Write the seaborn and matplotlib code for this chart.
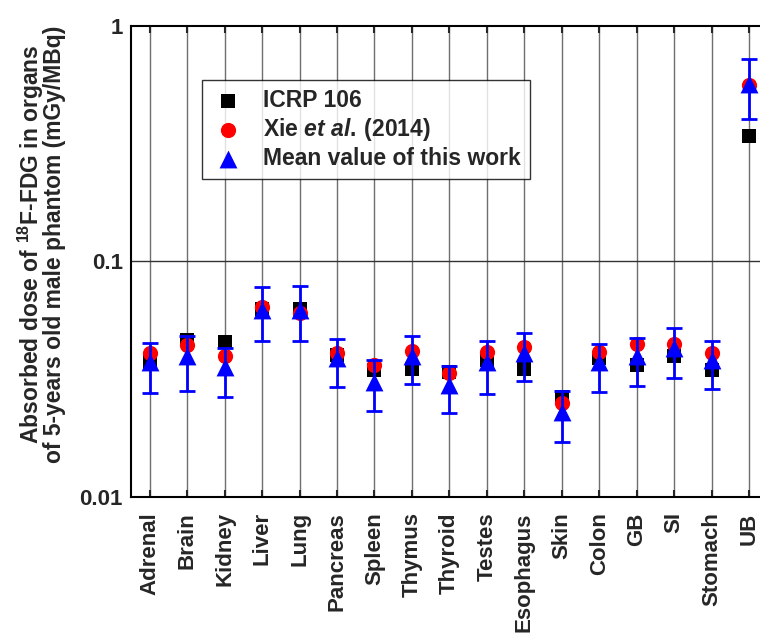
import numpy as np
import pandas as pd
import matplotlib
matplotlib.use("Agg")
import matplotlib.pyplot as plt
import seaborn as sns
from matplotlib.ticker import FixedLocator, FixedFormatter, LogLocator, NullFormatter

# organs on the x axis
organs = ["Adrenal", "Brain", "Kidney", "Liver", "Lung", "Pancreas", "Spleen",
          "Thymus", "Thyroid", "Testes", "Esophagus", "Skin", "Colon", "GB",
          "SI", "Stomach", "UB"]

# absorbed dose (mGy/MBq)
icrp = [0.0375, 0.0466, 0.0457, 0.063, 0.063, 0.040, 0.0347, 0.035, 0.034,
        0.038, 0.035, 0.0267, 0.039, 0.0365, 0.0395, 0.0347, 0.34]
xie = [0.041, 0.0444, 0.0398, 0.064, 0.0607, 0.041, 0.0365, 0.0418, 0.0337,
       0.0414, 0.0435, 0.0251, 0.0414, 0.0448, 0.0448, 0.041, 0.56]
mean_work = [0.0375, 0.0395, 0.0357, 0.0625, 0.0625, 0.039, 0.0309, 0.0398,
             0.030, 0.0375, 0.041, 0.023, 0.0375, 0.0395, 0.043, 0.0383, 0.566]
mean_lo = [0.0277, 0.0282, 0.0267, 0.0461, 0.046, 0.0294, 0.0232, 0.0303,
           0.0228, 0.0274, 0.0312, 0.0171, 0.028, 0.0297, 0.0321, 0.0288, 0.402]
mean_hi = [0.045, 0.0484, 0.043, 0.0776, 0.079, 0.047, 0.0383, 0.0484,
           0.036, 0.0461, 0.0499, 0.0282, 0.0448, 0.0475, 0.0523, 0.0461, 0.724]

sns.set_style("white")
plt.rcParams["font.family"] = ["Liberation Sans", "DejaVu Sans"]
plt.rcParams["font.weight"] = "bold"
plt.rcParams["mathtext.fontset"] = "custom"
plt.rcParams["mathtext.rm"] = "Liberation Sans:bold"
plt.rcParams["mathtext.bf"] = "Liberation Sans:bold"
plt.rcParams["mathtext.it"] = "Liberation Sans:italic:bold"

df = pd.DataFrame({"organ": organs, "icrp": icrp, "xie": xie, "mean": mean_work})

fig = plt.figure(figsize=(7.6, 6.37), dpi=100)
ax = fig.add_axes([0.1724, 0.2198, 0.8377, 0.7394])

# grid lines first so markers sit on top
x = np.arange(len(organs))
for xi in x:
    ax.axvline(xi, color="#6e6e6e", lw=1.0, zorder=0)
ax.axhline(0.1, color="#333333", lw=1.0, zorder=0)

sns.scatterplot(data=df, x="organ", y="icrp", marker="s", color="black",
                s=90, linewidth=0, label="ICRP 106", ax=ax, zorder=3)
sns.scatterplot(data=df, x="organ", y="xie", marker="o", color="red",
                s=120, linewidth=0, label=r"Xie $\mathit{et\ al.}\,$(2014)", ax=ax, zorder=4)
sns.scatterplot(data=df, x="organ", y="mean", marker="^", color="blue",
                s=165, linewidth=0, label="Mean value of this work", ax=ax, zorder=6)

mv = np.array(mean_work)
ax.errorbar(x, mv, yerr=[mv - np.array(mean_lo), np.array(mean_hi) - mv],
            fmt="none", ecolor="blue", elinewidth=2, capsize=6, capthick=2, zorder=5)

ax.set_yscale("log")
ax.set_ylim(0.01, 1)
ax.set_xlim(-0.5, len(organs) - 0.5)
ax.yaxis.set_major_locator(FixedLocator([0.01, 0.1, 1]))
ax.yaxis.set_major_formatter(FixedFormatter(["0.01", "0.1", "1"]))
ax.yaxis.set_minor_locator(LogLocator(base=10, subs=np.arange(2, 10)))
ax.yaxis.set_minor_formatter(NullFormatter())

ax.set_xticks(x)
ax.set_xticklabels(organs, rotation=90, fontsize=16, fontweight="bold")
ax.tick_params(axis="x", direction="in", length=5, width=1.5, top=True, bottom=True, pad=11)
ax.tick_params(axis="y", which="major", direction="in", length=8, width=1.5, labelsize=16, pad=6)
ax.tick_params(axis="y", which="minor", direction="in", length=5, width=1.5)
for lab in ax.get_yticklabels():
    lab.set_fontweight("bold")

for side in ["left", "bottom", "top", "right"]:
    ax.spines[side].set_color("black")
    ax.spines[side].set_linewidth(1.5)

ax.set_xlabel("")
ax.set_ylabel("Absorbed dose of $^{18}$F-FDG in organs\nof 5-years old male phantom (mGy/MBq)",
              fontsize=16.5, fontweight="bold", linespacing=0.85)
ax.yaxis.set_label_coords(-0.102, 0.537)

leg = ax.legend(loc="upper left", bbox_to_anchor=(0.1115, 0.885), borderaxespad=0,
                frameon=True, fancybox=False, edgecolor="black",
                prop={"weight": "bold", "size": 16.5}, handletextpad=0.8,
                labelspacing=0.18, borderpad=0.38, handlelength=1.5)
leg.get_frame().set_linewidth(1.0)

fig.savefig("out.png", dpi=100, facecolor="white")
